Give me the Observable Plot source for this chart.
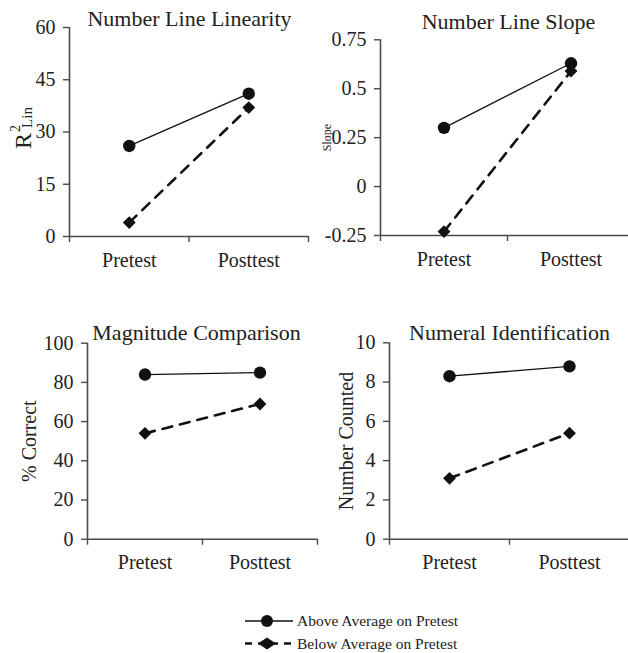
<!DOCTYPE html>
<html><head><meta charset="utf-8">
<script src="https://cdn.jsdelivr.net/npm/d3@7"></script>
<script src="https://cdn.jsdelivr.net/npm/@observablehq/plot@0.6"></script>
<style>
html,body{margin:0;padding:0;background:#fff;overflow:hidden}
#chart{position:relative;width:628px;height:653px;overflow:hidden;background:#fff;font-family:"Liberation Serif","Times New Roman",serif}
#chart svg{position:absolute;max-width:none}
</style></head><body><div id="chart"></div>
<script>
const categories = ["Pretest", "Posttest"];
const seriesNames = ["Above Average on Pretest", "Below Average on Pretest"];
const linearityAbove = [26, 41];
const linearityBelow = [4, 37];
const slopeAbove = [0.30, 0.63];
const slopeBelow = [-0.23, 0.59];
const magnitudeAbove = [84, 85];
const magnitudeBelow = [54, 69];
const numeralAbove = [8.3, 8.8];
const numeralBelow = [3.1, 5.4];
const linearityTicks = [0, 15, 30, 45, 60];
const slopeTicks = [-0.25, 0, 0.25, 0.5, 0.75];
const magnitudeTicks = [0, 20, 40, 60, 80, 100];
const numeralTicks = [0, 2, 4, 6, 8, 10];
const titles = ["Number Line Linearity", "Number Line Slope", "Magnitude Comparison", "Numeral Identification"];
const yLabels = ["R2Lin", "Slope", "% Correct", "Number Counted"];

const FONT = '"Liberation Serif","Times New Roman",serif';
const INK = "#111";
const AXIS = "#4a4a4a";
const TEXT = "#222";
const chart = document.getElementById("chart");

function panel(o) {
  const rows = [];
  categories.forEach((c, i) => {
    rows.push({series: seriesNames[0], cat: c, pos: i + 0.5, value: o.above[i]});
    rows.push({series: seriesNames[1], cat: c, pos: i + 0.5, value: o.below[i]});
  });
  const aboveRows = rows.filter(d => d.series === seriesNames[0]);
  const belowRows = rows.filter(d => d.series === seriesNames[1]);
  const ymin = d3.min(o.ticks), ymax = d3.max(o.ticks);
  const svg = Plot.plot({
    width: o.width, height: o.height,
    marginLeft: o.mL, marginRight: o.mR, marginTop: o.mT, marginBottom: o.mB,
    style: {fontFamily: FONT, fontSize: "20px", background: "none", overflow: "visible", color: TEXT},
    x: {domain: [0, categories.length], axis: null},
    y: {domain: [ymin, ymax], axis: null},
    marks: [
      Plot.axisY(o.ticks, {label: null, tickSize: 6, tickPadding: 8, tickFormat: d => String(d), stroke: AXIS, strokeWidth: 1.4, fill: TEXT, fontSize: 20, fontFamily: FONT}),
      Plot.axisX(d3.range(categories.length + 1), {label: null, tickSize: 6, tickFormat: () => "", stroke: AXIS, strokeWidth: 1.4}),
      Plot.axisX(categories.map((c, i) => i + 0.5), {label: null, tickSize: 0, tickPadding: 16, tickFormat: d => categories[Math.floor(d)], fill: TEXT, fontSize: 20, fontFamily: FONT}),
      Plot.ruleX([0], {stroke: AXIS, strokeWidth: 1.6}),
      Plot.ruleY([ymin], {stroke: AXIS, strokeWidth: 1.6}),
      Plot.line(aboveRows, {x: "pos", y: "value", stroke: INK, strokeWidth: 1.3}),
      Plot.line(belowRows, {x: "pos", y: "value", stroke: INK, strokeWidth: 2.6, strokeDasharray: "10,8"}),
      Plot.dot(aboveRows, {x: "pos", y: "value", r: 6.2, fill: INK, symbol: "circle"}),
      Plot.dot(belowRows, {x: "pos", y: "value", r: 5.8, fill: INK, symbol: "diamond2"}),
      Plot.text([o.title], {frameAnchor: "top", lineAnchor: "bottom", dx: o.tdx, dy: o.tdy, fontSize: 22, fontFamily: FONT, fill: TEXT}),
      Plot.text([o.ylabel], {frameAnchor: "left", rotate: -90, lineAnchor: "bottom", textAnchor: "middle", dx: o.ldx, dy: o.ldy || 0, fontSize: o.lsize, fontFamily: FONT, fill: TEXT})
    ]
  });
  svg.style.left = o.left + "px";
  svg.style.top = o.top + "px";
  if (o.ylabel === "R2Lin") {
    d3.select(svg).selectAll("text").filter(function() { return this.textContent === "R2Lin"; })
      .each(function() {
        const t = d3.select(this);
        t.text("");
        t.append("tspan").attr("font-size", 24).text("R");
        t.append("tspan").attr("font-size", 14).attr("dx", 1).attr("dy", -11).text("2");
        t.append("tspan").attr("font-size", 15).attr("dx", -3).attr("dy", 12).text("Lin");
      });
  }
  chart.appendChild(svg);
}

panel({title: titles[0], ylabel: yLabels[0], above: linearityAbove, below: linearityBelow, ticks: linearityTicks,
  left: 0, top: 0, width: 320, height: 290, mL: 69, mR: 12, mT: 27, mB: 54, tdx: 0.5, tdy: -2, ldx: -39, ldy: -4, lsize: 24});
panel({title: titles[1], ylabel: yLabels[1], above: slopeAbove, below: slopeBelow, ticks: slopeTicks,
  left: 310, top: 0, width: 324, height: 290, mL: 70, mR: 0, mT: 39.3, mB: 55, tdx: 1, tdy: -11, ldx: -50, lsize: 12});
panel({title: titles[2], ylabel: yLabels[2], above: magnitudeAbove, below: magnitudeBelow, ticks: magnitudeTicks,
  left: 0, top: 300, width: 320, height: 290, mL: 87, mR: 3, mT: 42.7, mB: 51.3, tdx: -6, tdy: -3.4, ldx: -52, lsize: 20});
panel({title: titles[3], ylabel: yLabels[3], above: numeralAbove, below: numeralBelow, ticks: numeralTicks,
  left: 310, top: 300, width: 320, height: 290, mL: 79, mR: 1, mT: 42.3, mB: 51.3, tdx: 0, tdy: -3, ldx: -37, lsize: 20});

// legend
const leg = d3.select(chart).append("svg").attr("width", 628).attr("height", 53)
  .style("left", "0px").style("top", "600px").style("font-family", FONT);
const r1 = 21, r2 = 43.5;
leg.append("line").attr("x1", 245).attr("x2", 293).attr("y1", r1).attr("y2", r1).attr("stroke", INK).attr("stroke-width", 1.3);
leg.append("circle").attr("cx", 267).attr("cy", r1).attr("r", 6).attr("fill", INK);
leg.append("text").attr("x", 297).attr("y", r1 + 5).attr("font-size", 15.5).attr("fill", TEXT).text(seriesNames[0]);
leg.append("line").attr("x1", 245).attr("x2", 293).attr("y1", r2).attr("y2", r2).attr("stroke", INK).attr("stroke-width", 2.6).attr("stroke-dasharray", "7,6");
leg.append("path").attr("d", `M${267 - 9},${r2} L267,${r2 - 6} L${267 + 9},${r2} L267,${r2 + 6} Z`).attr("fill", INK);
leg.append("text").attr("x", 297).attr("y", r2 + 5).attr("font-size", 15.5).attr("fill", TEXT).text(seriesNames[1]);
</script>
</body></html>
